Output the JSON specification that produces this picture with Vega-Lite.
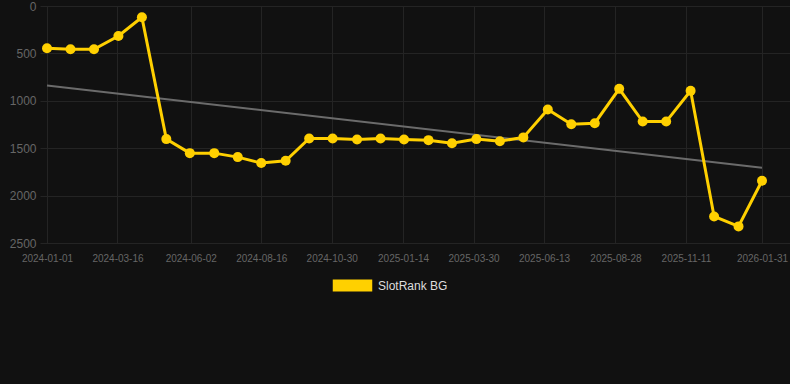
{
  "$schema": "https://vega.github.io/schema/vega-lite/v6.json",
  "width": 750,
  "height": 237,
  "autosize": {"type": "none"},
  "padding": {"left": 40, "top": 6, "right": 0, "bottom": 141},
  "background": "#111111",
  "config": {
    "view": {"stroke": null},
    "font": "Liberation Sans"
  },
  "data": {
    "values": [
      {"date": "2024-01-01", "value": 446, "series": "SlotRank BG"},
      {"date": "2024-01-26", "value": 456, "series": "SlotRank BG"},
      {"date": "2024-02-20", "value": 456, "series": "SlotRank BG"},
      {"date": "2024-03-17", "value": 316, "series": "SlotRank BG"},
      {"date": "2024-04-11", "value": 119, "series": "SlotRank BG"},
      {"date": "2024-05-07", "value": 1404, "series": "SlotRank BG"},
      {"date": "2024-06-01", "value": 1552, "series": "SlotRank BG"},
      {"date": "2024-06-27", "value": 1552, "series": "SlotRank BG"},
      {"date": "2024-07-22", "value": 1594, "series": "SlotRank BG"},
      {"date": "2024-08-16", "value": 1657, "series": "SlotRank BG"},
      {"date": "2024-09-11", "value": 1633, "series": "SlotRank BG"},
      {"date": "2024-10-06", "value": 1398, "series": "SlotRank BG"},
      {"date": "2024-10-31", "value": 1398, "series": "SlotRank BG"},
      {"date": "2024-11-26", "value": 1408, "series": "SlotRank BG"},
      {"date": "2024-12-21", "value": 1398, "series": "SlotRank BG"},
      {"date": "2025-01-15", "value": 1408, "series": "SlotRank BG"},
      {"date": "2025-02-10", "value": 1415, "series": "SlotRank BG"},
      {"date": "2025-03-07", "value": 1447, "series": "SlotRank BG"},
      {"date": "2025-04-02", "value": 1404, "series": "SlotRank BG"},
      {"date": "2025-04-27", "value": 1426, "series": "SlotRank BG"},
      {"date": "2025-05-22", "value": 1386, "series": "SlotRank BG"},
      {"date": "2025-06-17", "value": 1092, "series": "SlotRank BG"},
      {"date": "2025-07-12", "value": 1248, "series": "SlotRank BG"},
      {"date": "2025-08-06", "value": 1236, "series": "SlotRank BG"},
      {"date": "2025-09-01", "value": 874, "series": "SlotRank BG"},
      {"date": "2025-09-26", "value": 1219, "series": "SlotRank BG"},
      {"date": "2025-10-21", "value": 1219, "series": "SlotRank BG"},
      {"date": "2025-11-16", "value": 895, "series": "SlotRank BG"},
      {"date": "2025-12-11", "value": 2220, "series": "SlotRank BG"},
      {"date": "2026-01-06", "value": 2325, "series": "SlotRank BG"},
      {"date": "2026-01-31", "value": 1844, "series": "SlotRank BG"}
    ]
  },
  "encoding": {
    "x": {
      "field": "date",
      "type": "temporal",
      "scale": {"type": "utc", "domain": ["2023-12-24T13:00:00Z", "2026-03-01T19:00:00Z"]},
      "axis": {
        "title": null,
        "format": "%Y-%m-%d",
        "values": [
          {"year": 2024, "month": 1, "date": 1, "utc": true},
          {"year": 2024, "month": 3, "date": 16, "utc": true},
          {"year": 2024, "month": 6, "date": 2, "utc": true},
          {"year": 2024, "month": 8, "date": 16, "utc": true},
          {"year": 2024, "month": 10, "date": 30, "utc": true},
          {"year": 2025, "month": 1, "date": 14, "utc": true},
          {"year": 2025, "month": 3, "date": 30, "utc": true},
          {"year": 2025, "month": 6, "date": 13, "utc": true},
          {"year": 2025, "month": 8, "date": 28, "utc": true},
          {"year": 2025, "month": 11, "date": 11, "utc": true},
          {"year": 2026, "month": 1, "date": 31, "utc": true}
        ],
        "labelColor": "#666666",
        "labelFontSize": 10,
        "labelPadding": 10,
        "tickSize": 0,
        "domain": false,
        "gridColor": "#242424",
        "gridWidth": 1,
        "labelFlush": false,
        "labelOverlap": false
      }
    },
    "y": {
      "field": "value",
      "type": "quantitative",
      "scale": {"domain": [0, 2500], "reverse": true, "nice": false},
      "axis": {
        "title": null,
        "format": "d",
        "values": [0, 500, 1000, 1500, 2000, 2500],
        "labelColor": "#666666",
        "labelFontSize": 12,
        "labelPadding": 4,
        "tickSize": 0,
        "domain": false,
        "gridColor": "#242424",
        "gridWidth": 1
      }
    }
  },
  "layer": [
    {
      "transform": [{"regression": "value", "on": "date"}],
      "mark": {"type": "line", "color": "#6b6b6b", "strokeWidth": 2}
    },
    {
      "mark": {"type": "line", "color": "#ffd000", "strokeWidth": 3}
    },
    {
      "mark": {"type": "circle", "opacity": 1, "size": 100},
      "encoding": {
        "color": {
          "field": "series",
          "type": "nominal",
          "scale": {"range": ["#ffd000"]},
          "legend": {
            "title": null,
            "orient": "none",
            "legendX": 292,
            "legendY": 259,
            "symbolType": "M-1,-0.3H1V0.3H-1Z",
            "symbolSize": 1560,
            "symbolOpacity": 1,
            "labelColor": "#dddddd",
            "labelFontSize": 12,
            "labelOffset": 5,
            "padding": 0
          }
        }
      }
    }
  ]
}
